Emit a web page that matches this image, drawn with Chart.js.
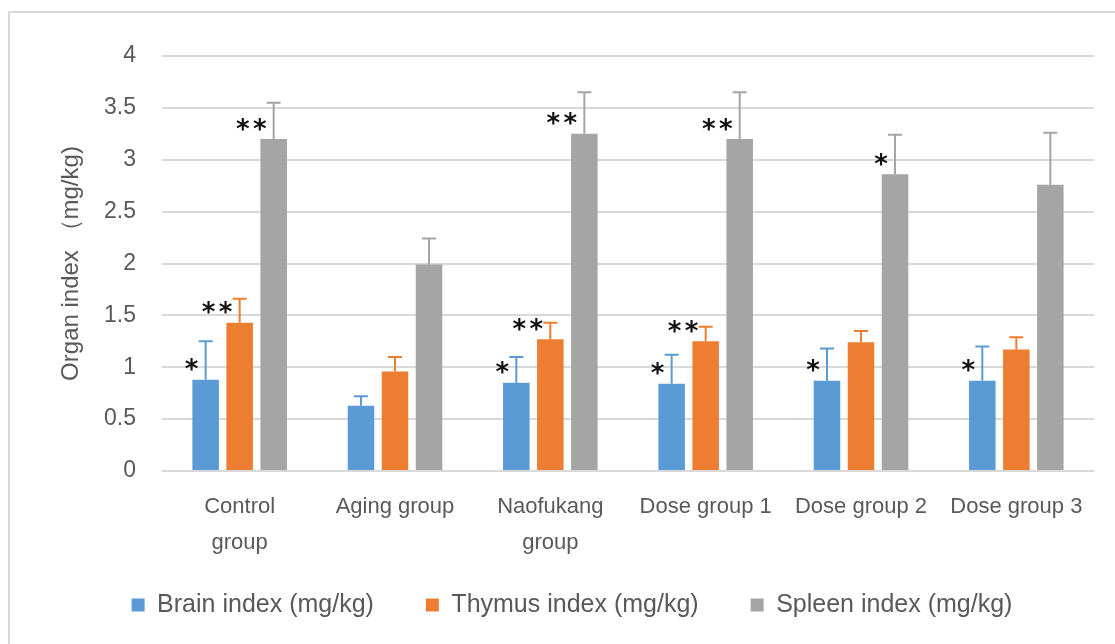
<!DOCTYPE html>
<html>
<head>
<meta charset="utf-8">
<script src="https://cdn.jsdelivr.net/npm/chart.js@4.4.1/dist/chart.umd.min.js"></script>
<style>
  html, body { margin: 0; padding: 0; background: #fff; overflow: hidden; }
  #frame { position: absolute; left: 8px; top: 11px; width: 1200px; height: 700px; border: 2px solid #d9d9d9; }
  #wrap { position: absolute; left: 0; top: 0; width: 1115px; height: 644px; }
</style>
</head>
<body>
<div id="frame"></div>
<div id="wrap"><canvas id="organChart"></canvas></div>
<script>
const groups = [["Control", "group"], "Aging group", ["Naofukang", "group"], "Dose group 1", "Dose group 2", "Dose group 3"];
const seriesNames = ["Brain index (mg/kg)", "Thymus index (mg/kg)", "Spleen index (mg/kg)"];

// means
const brainIndex = [0.88, 0.63, 0.85, 0.84, 0.87, 0.87];
const thymusIndex = [1.43, 0.96, 1.27, 1.25, 1.24, 1.17];
const spleenIndex = [3.20, 1.99, 3.25, 3.20, 2.86, 2.76];

// upper error (SD)
const brainSd = [0.37, 0.09, 0.25, 0.28, 0.31, 0.33];
const thymusSd = [0.23, 0.14, 0.16, 0.14, 0.11, 0.12];
const spleenSd = [0.35, 0.25, 0.40, 0.45, 0.38, 0.50];

// significance marks
const brainSig = ["*", "", "*", "*", "*", "*"];
const thymusSig = ["**", "", "**", "**", "", ""];
const spleenSig = ["**", "", "**", "**", "*", ""];

const yTicks = [0, 0.5, 1, 1.5, 2, 2.5, 3, 3.5, 4];

const colors = ["#5b9bd5", "#ed7d31", "#a5a5a5"];
const textColor = "#595959";

Chart.defaults.font.family = "'Liberation Sans', Arial, sans-serif";
Chart.defaults.color = textColor;

// error bars, drawn from the y scale
const errorBars = {
  id: "errorBars",
  afterDatasetsDraw(chart) {
    const ctx = chart.ctx;
    const yScale = chart.scales.y;
    chart.data.datasets.forEach((ds, di) => {
      const meta = chart.getDatasetMeta(di);
      meta.data.forEach((bar, i) => {
        const top = yScale.getPixelForValue(ds.data[i] + ds.sd[i]);
        ctx.save();
        ctx.strokeStyle = ds.backgroundColor;
        ctx.lineWidth = 2;
        ctx.beginPath();
        ctx.moveTo(bar.x, bar.y);
        ctx.lineTo(bar.x, top);
        ctx.moveTo(bar.x - 7, top);
        ctx.lineTo(bar.x + 7, top);
        ctx.stroke();
        ctx.restore();
      });
    });
  },
};

// asterisks left of the error bar
const sigMarks = {
  id: "sigMarks",
  afterDatasetsDraw(chart) {
    const ctx = chart.ctx;
    ctx.save();
    ctx.fillStyle = "#111";
    ctx.font = "bold 26px 'DejaVu Sans'";
    ctx.textAlign = "center";
    ctx.textBaseline = "alphabetic";
    const m = ctx.measureText("*");
    const shift = (m.actualBoundingBoxAscent - m.actualBoundingBoxDescent) / 2;
    chart.data.datasets.forEach((ds, di) => {
      const meta = chart.getDatasetMeta(di);
      meta.data.forEach((bar, i) => {
        const mark = ds.sig[i];
        for (let k = 0; k < mark.length; k++) {
          const cx = bar.x - 14 - (mark.length - 1 - k) * 17;
          ctx.fillText("*", cx, bar.y - 15 + shift);
        }
      });
    });
    ctx.restore();
  },
};

// legend padding also pushes the row down; lift it back up
const liftLegend = {
  id: "liftLegend",
  afterLayout(chart) {
    const lg = chart.legend;
    if (!lg) return;
    lg.top -= 22.5;
    lg.bottom -= 22.5;
  },
};

const makeSet = (label, data, sd, sig, color) => ({
  label: label,
  data: data,
  sd: sd,
  sig: sig,
  backgroundColor: color,
  borderWidth: 0,
  categoryPercentage: 0.657,
  barPercentage: 0.78,
});

new Chart(document.getElementById("organChart"), {
  type: "bar",
  data: {
    labels: groups,
    datasets: [
      makeSet(seriesNames[0], brainIndex, brainSd, brainSig, colors[0]),
      makeSet(seriesNames[1], thymusIndex, thymusSd, thymusSig, colors[1]),
      makeSet(seriesNames[2], spleenIndex, spleenSd, spleenSig, colors[2]),
    ],
  },
  options: {
    responsive: true,
    maintainAspectRatio: false,
    animation: false,
    layout: { padding: { left: 50, top: 56, right: 21, bottom: -6 } },
    plugins: {
      tooltip: { enabled: false },
      legend: {
        position: "bottom",
        labels: {
          boxWidth: 13,
          boxHeight: 13,
          padding: 52,
          color: textColor,
          font: { size: 25 },
        },
      },
    },
    scales: {
      x: {
        grid: { display: false, drawTicks: false },
        border: { display: false },
        ticks: {
          autoSkip: false,
          maxRotation: 0,
          minRotation: 0,
          padding: 18,
          color: textColor,
          font: { size: 22, lineHeight: 36 / 22 },
        },
        afterFit: (scale) => { scale.height = 92; },
      },
      y: {
        min: 0,
        max: 4,
        afterBuildTicks: (scale) => { scale.ticks = yTicks.map((v) => ({ value: v })); },
        grid: { color: "#d9d9d9", lineWidth: 2, drawTicks: false },
        border: { display: false },
        ticks: {
          padding: 26,
          color: textColor,
          font: { size: 23 },
          callback: (v) => String(v),
        },
        title: {
          display: true,
          text: "Organ index （mg/kg)",
          color: textColor,
          font: { size: 24 },
          padding: { top: 7, bottom: 0 },
        },
        afterFit: (scale) => { scale.width = 112; },
      },
    },
  },
  plugins: [errorBars, sigMarks, liftLegend],
});
</script>
</body>
</html>
